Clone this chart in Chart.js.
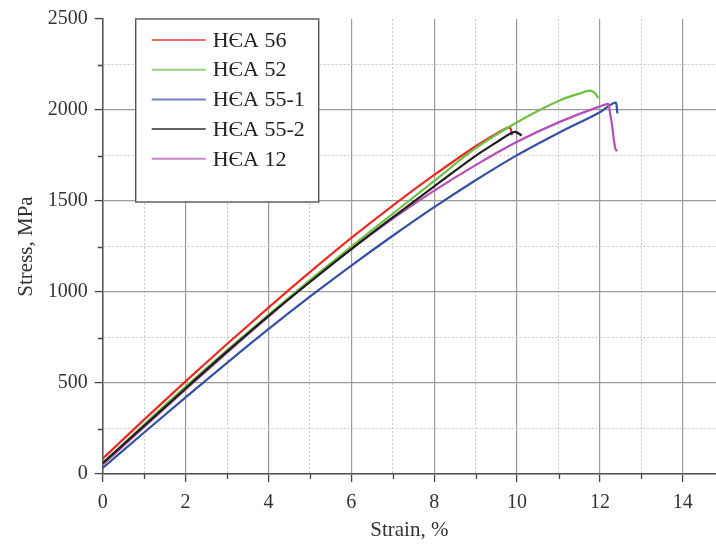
<!DOCTYPE html>
<html><head><meta charset="utf-8">
<script src="https://cdn.jsdelivr.net/npm/chart.js@4/dist/chart.umd.min.js"></script>
<style>html,body{margin:0;padding:0;background:#fff;overflow:hidden}#wrap{width:716px;height:548px;position:relative}</style>
</head><body><div id="wrap"><canvas id="c" width="716" height="548"></canvas></div>
<script>
// ---- data ----
const seriesNames = ['HЄA 56', 'HЄA 52', 'HЄA 55-1', 'HЄA 55-2', 'HЄA 12'];
const seriesColors = ['#ec2a26', '#6cc13e', '#3350a6', '#1e1e1e', '#b64fb6'];

const hea56Strain = [0, 1, 2, 3, 4, 5, 6, 7, 8, 9, 9.5, 9.83, 9.88];
const hea56Stress = [84, 299, 509, 714, 914, 1109, 1297, 1475, 1643, 1801, 1870, 1905, 1862];

const hea52Strain = [0, 1, 2, 3, 4, 5, 6, 7, 8, 9, 10, 11, 11.5, 11.76, 11.88, 11.96];
const hea52Stress = [60, 272, 480, 680, 875, 1065, 1250, 1430, 1610, 1790, 1933, 2050, 2090, 2107, 2092, 2065];

const hea551Strain = [0, 1, 2, 3, 4, 5, 6, 7, 8, 9, 10, 11, 12, 12.39, 12.42];
const hea551Stress = [33, 228, 421, 611, 796, 974, 1145, 1309, 1466, 1614, 1752, 1874, 1988, 2040, 1982];

const hea552Strain = [0, 1, 2, 3, 4, 5, 6, 7, 8, 9, 9.5, 9.83, 9.95, 10.11];
const hea552Stress = [60, 265, 470, 672, 868, 1055, 1236, 1410, 1580, 1748, 1822, 1870, 1880, 1860];

const hea12Strain = [0, 1, 2, 3, 4, 5, 6, 7, 8, 9, 10, 11, 12, 12.2, 12.25, 12.29, 12.33, 12.37, 12.41];
const hea12Stress = [51, 258, 464, 667, 865, 1055, 1235, 1403, 1557, 1697, 1825, 1932, 2020, 2034, 1975, 1920, 1846, 1790, 1773];

const xMajorTicks = [0, 2, 4, 6, 8, 10, 12, 14];
const yMajorTicks = [0, 500, 1000, 1500, 2000, 2500];

// ---- build ----
const strainSets = [hea56Strain, hea52Strain, hea551Strain, hea552Strain, hea12Strain];
const stressSets = [hea56Stress, hea52Stress, hea551Stress, hea552Stress, hea12Stress];
const drawOrder = [3, 1, 4, 0, 2];

const datasets = seriesNames.map((name, i) => ({
  label: name,
  data: strainSets[i].map((x, j) => ({x: x, y: stressSets[i][j]})),
  borderColor: seriesColors[i],
  backgroundColor: seriesColors[i],
  borderWidth: 2.2,
  pointRadius: 0,
  fill: false,
  cubicInterpolationMode: 'monotone',
  order: drawOrder[i]
}));

const FONT = '"Liberation Serif", "Times New Roman", serif';
Chart.defaults.font.family = FONT;
Chart.defaults.color = '#333';

const isXMajor = v => xMajorTicks.includes(v);
const isYMajor = v => yMajorTicks.includes(v);

const extrasPlugin = {
  id: 'extras',
  afterDatasetsDraw(chart) {
    const ctx = chart.ctx;
    const xs = chart.scales.x, ys = chart.scales.y;
    const area = chart.chartArea;
    ctx.save();
    // minor ticks
    ctx.strokeStyle = '#444';
    ctx.lineWidth = 1.3;
    ctx.beginPath();
    xs.ticks.forEach(t => {
      if (!isXMajor(t.value)) {
        const px = Math.round(xs.getPixelForValue(t.value)) + 0.5;
        ctx.moveTo(px, area.bottom); ctx.lineTo(px, area.bottom + 5);
      }
    });
    ys.ticks.forEach(t => {
      if (!isYMajor(t.value)) {
        const py = Math.round(ys.getPixelForValue(t.value)) + 0.5;
        ctx.moveTo(area.left, py); ctx.lineTo(area.left - 5, py);
      }
    });
    ctx.stroke();

    // legend box
    const bx = area.left + 33, by = area.top, bw = 183, bh = 183;
    ctx.fillStyle = '#fff';
    ctx.fillRect(bx, by, bw, bh);
    ctx.strokeStyle = '#555';
    ctx.lineWidth = 1.4;
    ctx.strokeRect(bx, by, bw, bh);
    ctx.font = '22px ' + FONT;
    ctx.textBaseline = 'middle';
    ctx.textAlign = 'left';
    chart.data.datasets.forEach((ds, i) => {
      const y = by + 21 + i * 29.7;
      ctx.strokeStyle = ds.borderColor;
      ctx.globalAlpha = 0.7;
      ctx.lineWidth = 2;
      ctx.beginPath();
      ctx.moveTo(bx + 16, y); ctx.lineTo(bx + 70, y);
      ctx.stroke();
      ctx.globalAlpha = 1;
      ctx.fillStyle = '#222';
      ctx.fillText(ds.label, bx + 77, y + 1);
    });
    ctx.restore();
  }
};

new Chart(document.getElementById('c'), {
  type: 'line',
  data: {datasets},
  plugins: [extrasPlugin],
  options: {
    responsive: false,
    animation: false,
    layout: {padding: {top: 17, right: 0, left: 0, bottom: 0}},
    plugins: {legend: {display: false}, tooltip: {enabled: false}},
    scales: {
      x: {
        type: 'linear',
        min: 0, max: 14.8,
        afterFit: s => { s.height = 74; },
        ticks: {
          stepSize: 1, autoSkip: false, includeBounds: false, maxRotation: 0,
          padding: 9,
          font: {size: 20}, color: '#333',
          callback: v => isXMajor(v) ? String(v) : ''
        },
        grid: {
          color: c => c.tick ? (isXMajor(c.tick.value) ? '#9a9a9a' : '#c8c8c8') : '#999',
          lineWidth: c => c.tick && isXMajor(c.tick.value) ? 1.2 : 1,
          tickLength: 8,
          tickColor: c => c.tick && isXMajor(c.tick.value) ? '#444' : 'rgba(0,0,0,0)',
          tickWidth: 1.3
        },
        border: {
          display: true, color: '#555', width: 1.5,
          dash: c => c.tick && !isXMajor(c.tick.value) ? [2, 2] : []
        },
        title: {display: true, text: 'Strain, %', font: {size: 21}, color: '#333', padding: {top: 0, bottom: 5}}
      },
      y: {
        type: 'linear',
        min: 0, max: 2500,
        afterFit: s => { s.width = 102.7; },
        ticks: {
          stepSize: 250, autoSkip: false, includeBounds: false,
          padding: 7,
          font: {size: 20}, color: '#333',
          callback: v => isYMajor(v) ? String(v) : ''
        },
        grid: {
          color: c => {
            if (!c.tick) return '#999';
            if (c.tick.value === 2500) return 'rgba(0,0,0,0)';
            return isYMajor(c.tick.value) ? '#9a9a9a' : '#c8c8c8';
          },
          lineWidth: c => c.tick && isYMajor(c.tick.value) ? 1.2 : 1,
          tickLength: 8,
          tickColor: c => c.tick && isYMajor(c.tick.value) ? '#444' : 'rgba(0,0,0,0)',
          tickWidth: 1.3
        },
        border: {
          display: true, color: '#555', width: 1.5,
          dash: c => c.tick && !isYMajor(c.tick.value) ? [2, 2] : []
        },
        title: {display: true, text: 'Stress, MPa', font: {size: 21}, color: '#333', padding: {top: 14, bottom: 0}}
      }
    }
  }
});
</script>
</body></html>
